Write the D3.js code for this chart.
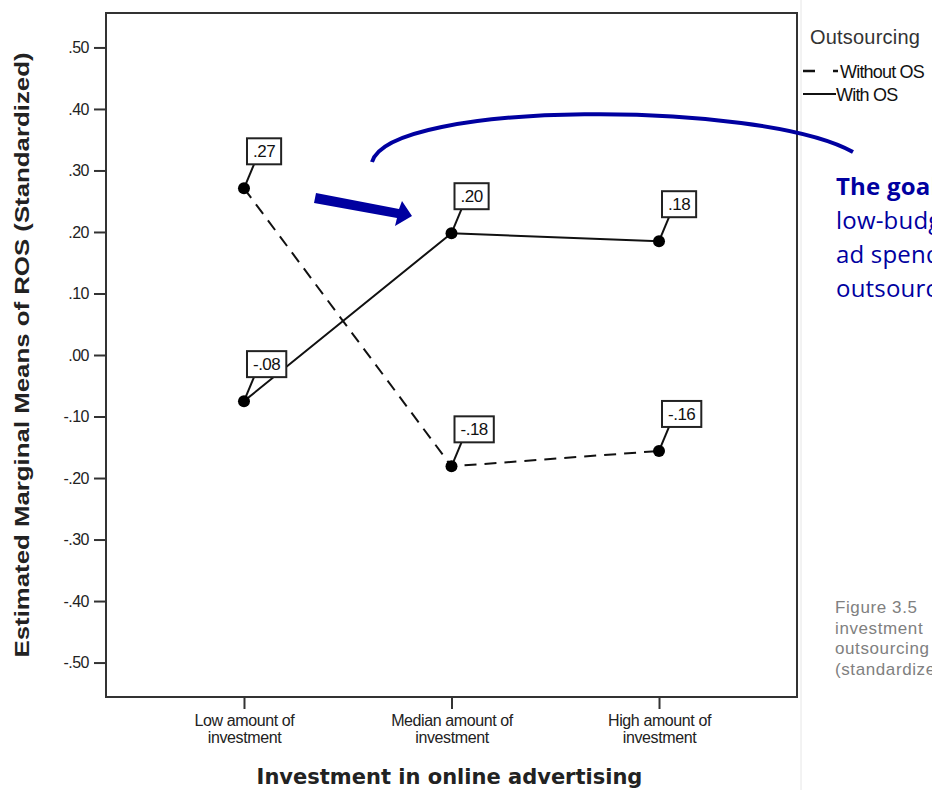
<!DOCTYPE html>
<html><head><meta charset="utf-8">
<script src="https://cdn.jsdelivr.net/npm/d3@7"></script>
<style>html,body{margin:0;padding:0;background:#fff;overflow:hidden}</style>
</head><body>
<script>
const categories = [["Low amount of","investment"],["Median amount of","investment"],["High amount of","investment"]];
const seriesNames = ["Without OS","With OS"];
const withoutOS = [0.271, -0.181, -0.156];
const withOS = [-0.075, 0.198, 0.185];
const withoutLabels = [".27", "-.18", "-.16"];
const withLabels = ["-.08", ".20", ".18"];
const yTicks = [0.5,0.4,0.3,0.2,0.1,0,-0.1,-0.2,-0.3,-0.4,-0.5];
const yTickLabels = [".50",".40",".30",".20",".10",".00","-.10","-.20","-.30","-.40","-.50"];
const calloutLines = ["The goal:", "low-budget", "ad spend with", "outsourcing"];
const captionLines = ["Figure 3.5", "investment", "outsourcing", "(standardized)"];

const W = 932, H = 790;
const L = 106, T = 13, R = 797, B = 697;
const svg = d3.select("body").append("svg").attr("width", W).attr("height", H);

const x = d3.scalePoint().domain([0,1,2]).range([L, R]).padding(0.665);
const y = d3.scaleLinear().domain([-0.556, 0.556]).range([B, T]);
const ARIAL = "Liberation Sans, Arial, sans-serif";

// page divider
svg.append("line").attr("x1",801).attr("x2",801).attr("y1",0).attr("y2",H).attr("stroke","#e6e6e6").attr("stroke-width",1);

// frame
svg.append("rect").attr("x",L).attr("y",T).attr("width",R-L).attr("height",B-T)
  .attr("fill","none").attr("stroke","#333").attr("stroke-width",2);

// y axis
const yAxis = d3.axisLeft(y).tickValues(yTicks).tickSize(12).tickPadding(5)
  .tickFormat((d,i)=>yTickLabels[i]);
const gy = svg.append("g").attr("transform",`translate(${L},0)`).call(yAxis);
gy.select(".domain").remove();
gy.selectAll(".tick line").attr("stroke","#333").attr("stroke-width",2);
gy.selectAll(".tick text").attr("font-family",ARIAL).attr("font-size",16)
  .attr("letter-spacing","-0.5").attr("fill","#222");

// x axis
const xAxis = d3.axisBottom(x).tickSize(12).tickFormat(()=> "");
const gx = svg.append("g").attr("transform",`translate(0,${B})`).call(xAxis);
gx.select(".domain").remove();
gx.selectAll(".tick line").attr("stroke","#333").attr("stroke-width",2);
gx.selectAll(".tick").each(function(d){
  const t = d3.select(this).append("text").attr("fill","#222")
    .attr("font-family",ARIAL).attr("font-size",16).attr("letter-spacing","-0.4")
    .attr("text-anchor","middle");
  categories[d].forEach((s,i)=> t.append("tspan").attr("x",0).attr("y",29+i*17).text(s));
});

// axis titles
svg.append("text").attr("transform",`translate(29,${(T+B)/2}) rotate(-90)`)
  .attr("text-anchor","middle").attr("font-family",ARIAL)
  .attr("font-weight","bold").attr("font-size",21).attr("fill","#222")
  .attr("textLength",605).attr("lengthAdjust","spacingAndGlyphs")
  .text("Estimated Marginal Means of ROS (Standardized)");
svg.append("text").attr("x",(L+R)/2-2).attr("y",784).attr("text-anchor","middle")
  .attr("font-family","DejaVu Sans, sans-serif").attr("font-weight","bold")
  .attr("font-size",21).attr("fill","#222").text("Investment in online advertising");

// lines
const line = d3.line().x((d,i)=>x(i)).y(d=>y(d));
svg.append("path").datum(withoutOS).attr("d",line).attr("fill","none")
  .attr("stroke","#111").attr("stroke-width",2).attr("stroke-dasharray","12,8");
svg.append("path").datum(withOS).attr("d",line).attr("fill","none")
  .attr("stroke","#111").attr("stroke-width",2);

function drawPoints(vals, labels){
  vals.forEach((v,i)=>{
    const cx = x(i), cy = y(v);
    const top = cy - 50;
    const g = svg.append("g");
    g.append("line").attr("x1",cx).attr("y1",cy).attr("x2",cx+10).attr("y2",top+26)
      .attr("stroke","#111").attr("stroke-width",2);
    const tx = g.append("text").attr("font-family",ARIAL)
      .attr("font-size",17).attr("letter-spacing","-0.5").attr("fill","#111").text(labels[i]);
    const w = tx.node().getComputedTextLength();
    const bx = cx + 3, bw = w + 12, bh = 26;
    g.insert("rect","text").attr("x",bx).attr("y",top).attr("width",bw).attr("height",bh)
      .attr("fill","#fff").attr("stroke","#222").attr("stroke-width",2);
    tx.attr("x",bx+6).attr("y",top+19);
    svg.append("circle").attr("cx",cx).attr("cy",cy).attr("r",6).attr("fill","#000");
  });
}
drawPoints(withoutOS, withoutLabels);
drawPoints(withOS, withLabels);

// legend
svg.append("text").attr("x",810).attr("y",44).attr("font-family",ARIAL)
  .attr("font-size",20).attr("letter-spacing","0.2").attr("fill","#333").text("Outsourcing");
svg.append("line").attr("x1",803).attr("x2",838).attr("y1",71).attr("y2",71)
  .attr("stroke","#111").attr("stroke-width",2.5).attr("stroke-dasharray","12,18,5,0");
svg.append("text").attr("x",840).attr("y",78).attr("font-family",ARIAL)
  .attr("font-size",18).attr("letter-spacing","-0.8").attr("fill","#111").text(seriesNames[0]);
svg.append("line").attr("x1",803).attr("x2",836).attr("y1",94).attr("y2",94)
  .attr("stroke","#111").attr("stroke-width",2);
svg.append("text").attr("x",836).attr("y",101).attr("font-family",ARIAL)
  .attr("font-size",18).attr("letter-spacing","-0.8").attr("fill","#111").text(seriesNames[1]);

// annotations
const blue = "#0000a0";
svg.append("path").attr("d","M372,162 C390,100 760,100 853,152").attr("fill","none")
  .attr("stroke",blue).attr("stroke-width",4);
svg.append("path").attr("d","M316,193 L399,209 L402,201 L412,216 L395,226 L397,218 L314,203 Z").attr("fill",blue);

calloutLines.forEach((s,i)=>{
  svg.append("text").attr("x",836).attr("y",195+i*34).attr("font-family","Open Sans, sans-serif")
    .attr("font-size",24).attr("letter-spacing","0.2").attr("font-weight", i===0?"bold":"normal").attr("fill",blue).text(s);
});
captionLines.forEach((s,i)=>{
  svg.append("text").attr("x",835).attr("y",613+i*20.5).attr("font-family",ARIAL)
    .attr("font-size",17).attr("letter-spacing","0.6").attr("fill","#808080").text(s);
});
</script>
</body></html>
